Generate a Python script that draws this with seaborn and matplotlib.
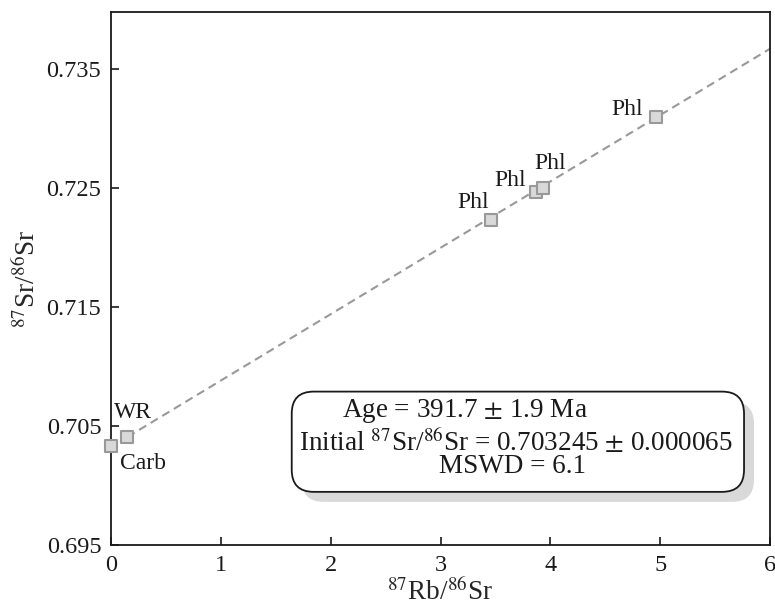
import matplotlib
matplotlib.use("Agg")
import matplotlib.pyplot as plt
import seaborn as sns
import numpy as np
import pandas as pd
from matplotlib.patches import FancyBboxPatch

# Data
samples = ["Carb", "WR", "Phl", "Phl", "Phl", "Phl"]
rb_sr = [0.00, 0.15, 3.464, 3.873, 3.932, 4.959]
sr_sr = [0.70328, 0.70408, 0.72231, 0.72471, 0.72504, 0.73097]
initial_ratio = 0.703245
age_ma = 391.7
decay_const = 1.42e-11
line_x_end = 6.0
x_ticks = [0, 1, 2, 3, 4, 5, 6]
y_ticks = [0.695, 0.705, 0.715, 0.725, 0.735]
box_lines = [r"Age = 391.7 $\pm$ 1.9 Ma",
             r"Initial $^{87}$Sr/$^{86}$Sr = 0.703245 $\pm$ 0.000065",
             r"MSWD = 6.1"]

sns.set_theme(style="ticks")
plt.rcParams["font.family"] = ["Liberation Serif", "DejaVu Serif"]
plt.rcParams["mathtext.fontset"] = "stix"

fig = plt.figure(figsize=(7.75, 6.1), dpi=100)
ax = fig.add_axes([111/775, 1-545/610, (770-111)/775, (545-12)/610])

slope = np.exp(decay_const * age_ma * 1e6) - 1
line_df = pd.DataFrame({"x": [rb_sr[1], line_x_end]})
line_df["y"] = initial_ratio + slope * line_df["x"]
sns.lineplot(data=line_df, x="x", y="y", ax=ax, color="#999999", lw=1.5,
             linestyle=(0, (4, 2.5)), zorder=1)

df = pd.DataFrame({"x": rb_sr, "y": sr_sr, "s": samples})
sns.scatterplot(data=df, x="x", y="y", ax=ax, marker="s", s=70,
                color="#d9d9d9", edgecolor="#999999", linewidth=1.5, zorder=3,
                clip_on=False)

# labels offsets (pixels) and alignments
offsets = [(9, -17, "left"), (-14, 24, "left"), (-2, 18, "right"),
           (-10, 11, "right"), (-9, 24, "left"), (-13, 8, "right")]
for (xv, yv, s), (dx, dy, ha) in zip(zip(rb_sr, sr_sr, samples), offsets):
    ax.annotate(s, (xv, yv), xytext=(dx, dy), textcoords="offset pixels",
                ha=ha, va="center", fontsize=17, color="#1a1a1a")

ax.set_xlim(0, 6)
ax.set_ylim(0.695, 0.7398)
ax.set_xticks(x_ticks)
ax.set_yticks(y_ticks)
ax.set_yticklabels([f"{v:.3f}" for v in y_ticks])
ax.tick_params(direction="in", length=6, width=1.2, labelsize=17.5, colors="#1a1a1a",
               pad=7)
for sp in ax.spines.values():
    sp.set_linewidth(1.3)
    sp.set_color("#1a1a1a")
ax.set_xlabel(r"$^{87}$Rb/$^{86}$Sr", fontsize=19.5, labelpad=2)
ax.set_ylabel(r"$^{87}$Sr/$^{86}$Sr", fontsize=19.5, labelpad=4)

# Text box with shadow
def px2data(px, py):
    return (px - 111) / 110.0, 0.695 + (545 - py) / 11866.0

bx0, by0 = px2data(292, 492)
bx1, by1 = px2data(745, 392)
sx0, sy0 = px2data(302, 502)
asp = (by1 - by0) / (bx1 - bx0) * 453 / 100
shadow = FancyBboxPatch((sx0, sy0), bx1 - bx0, by1 - by0,
                        boxstyle="round,pad=0,rounding_size=0.2",
                        mutation_aspect=asp,
                        fc="#d9d9d9", ec="none", zorder=4, clip_on=False)
box = FancyBboxPatch((bx0, by0), bx1 - bx0, by1 - by0,
                     boxstyle="round,pad=0,rounding_size=0.2",
                     mutation_aspect=asp,
                     fc="white", ec="#1a1a1a", lw=1.3, zorder=5, clip_on=False)
ax.add_patch(shadow)
ax.add_patch(box)
centers = [(465, 411), (517, 442), (513, 467)]
for t, (cx, cy) in zip(box_lines, centers):
    x, y = px2data(cx, cy)
    ax.text(x, y, t, ha="center", va="center", fontsize=19.5, zorder=6,
            color="#1a1a1a")

fig.savefig("out.png", dpi=100)
